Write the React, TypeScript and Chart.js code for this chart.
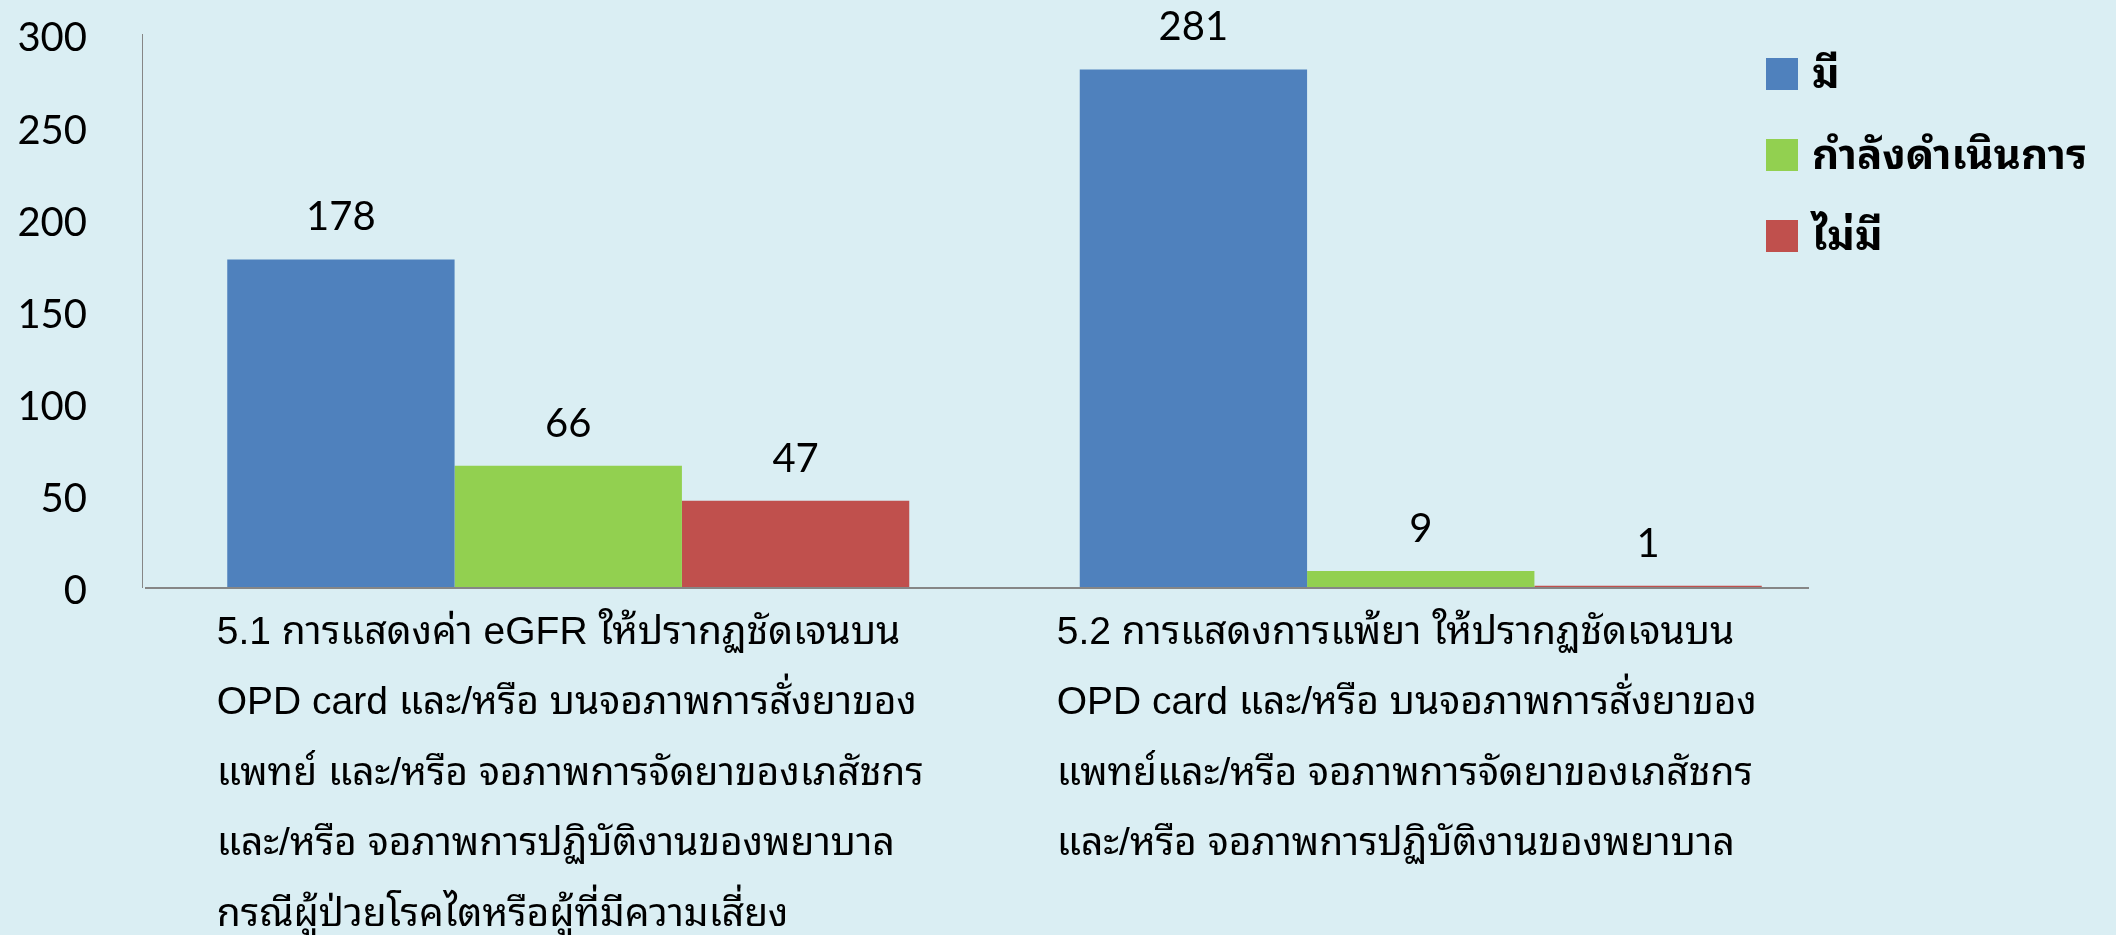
import { useEffect, useRef } from "react";
import { Chart, registerables } from "chart.js";

Chart.register(...registerables);

// ---- data ----
const categories: string[][] = [
  [
    "5.1 การแสดงค่า eGFR ให้ปรากฏชัดเจนบน",
    "OPD card และ/หรือ บนจอภาพการสั่งยาของ",
    "แพทย์ และ/หรือ จอภาพการจัดยาของเภสัชกร",
    "และ/หรือ จอภาพการปฏิบัติงานของพยาบาล",
    "กรณีผู้ป่วยโรคไตหรือผู้ที่มีความเสี่ยง",
  ],
  [
    "5.2 การแสดงการแพ้ยา ให้ปรากฏชัดเจนบน",
    "OPD card และ/หรือ บนจอภาพการสั่งยาของ",
    "แพทย์และ/หรือ จอภาพการจัดยาของเภสัชกร",
    "และ/หรือ จอภาพการปฏิบัติงานของพยาบาล",
  ],
];
const seriesNames = ["มี", "กำลังดำเนินการ", "ไม่มี"];
const haveValues = [178, 281];
const inProgressValues = [66, 9];
const noneValues = [47, 1];
const seriesColors = ["#4F81BD", "#92D050", "#C0504D"];
const yMin = 0;
const yMax = 300;
const yStep = 50;

// ---- styles ----
const W = 2116;
const H = 935;
const BG = "#DAEEF3";
const AXIS = "#868686";
const NUM_FONT = '40px Lato, "DejaVu Sans", sans-serif';
const CAT_FONT = '39px "Liberation Sans", "Noto Sans Thai Looped", "Noto Sans Thai", "Noto Sans", sans-serif';
const LEG_FONT = 'bold 42px "Noto Sans Thai Looped", "Noto Sans Thai", "Noto Sans", sans-serif';
const labelShift = [2, -14];

const overlayPlugin = {
  id: "overlay",
  afterDatasetsDraw(chart: any) {
    const ctx: CanvasRenderingContext2D = chart.ctx;
    const area = chart.chartArea;
    const xs = chart.scales.x;
    ctx.save();

    // horizontal axis line (drawn over bars)
    ctx.strokeStyle = AXIS;
    ctx.lineWidth = 2;
    ctx.beginPath();
    ctx.moveTo(area.left + 3, area.bottom + 0.5);
    ctx.lineTo(area.right - 38, area.bottom + 0.5);
    ctx.stroke();

    // value labels
    ctx.font = NUM_FONT;
    ctx.fillStyle = "#000";
    ctx.textAlign = "center";
    ctx.textBaseline = "middle";
    chart.data.datasets.forEach((ds: any, di: number) => {
      const meta = chart.getDatasetMeta(di);
      meta.data.forEach((el: any, i: number) => {
        ctx.fillText(String(ds.data[i]), el.x, el.y - 42);
      });
    });

    // category labels: centred block, left-aligned lines
    ctx.font = CAT_FONT;
    ctx.textAlign = "left";
    ctx.textBaseline = "alphabetic";
    (chart.data.labels as string[][]).forEach((lines, i) => {
      const cx = xs.getPixelForValue(i) + (labelShift[i] || 0);
      const maxW = Math.max(...lines.map((l) => ctx.measureText(l).width));
      const left = cx - maxW / 2;
      lines.forEach((l, k) => {
        ctx.fillText(l, left, area.bottom + 56 + k * 70.5);
      });
    });

    // legend
    ctx.font = LEG_FONT;
    ctx.textBaseline = "middle";
    chart.data.datasets.forEach((ds: any, di: number) => {
      const cy = 74 + di * 81;
      const sx = chart.width - 350;
      ctx.fillStyle = ds.backgroundColor;
      ctx.fillRect(sx, cy - 16, 32, 32);
      ctx.fillStyle = "#000";
      ctx.fillText(ds.label, sx + 46, cy + 2);
    });

    ctx.restore();
  },
};

export default function App() {
  const ref = useRef<HTMLCanvasElement | null>(null);

  useEffect(() => {
    if (!ref.current) return;
    const chart = new Chart(ref.current, {
      type: "bar",
      data: {
        labels: categories as any,
        datasets: [
          { label: seriesNames[0], data: haveValues, backgroundColor: seriesColors[0] },
          { label: seriesNames[1], data: inProgressValues, backgroundColor: seriesColors[1] },
          { label: seriesNames[2], data: noneValues, backgroundColor: seriesColors[2] },
        ],
      },
      options: {
        animation: false,
        responsive: false,
        devicePixelRatio: 1,
        layout: { padding: { top: 34.5, right: 269, left: 0, bottom: 0 } },
        datasets: {
          bar: { categoryPercentage: 0.8, barPercentage: 1.0 },
        },
        plugins: {
          legend: { display: false },
          tooltip: { enabled: false },
        },
        scales: {
          x: {
            type: "category",
            offset: true,
            grid: { display: false },
            border: { display: false },
            ticks: { display: false },
            afterFit: (s: any) => {
              s.height = 347.5;
              s.paddingLeft = 0;
              s.paddingRight = 0;
            },
          },
          y: {
            min: yMin,
            max: yMax,
            grid: { display: false, drawTicks: false },
            border: { display: true, color: AXIS, width: 1 },
            ticks: {
              stepSize: yStep,
              padding: 55,
              labelOffset: 4,
              color: "#000",
              font: { family: 'Lato, "DejaVu Sans", sans-serif', size: 40 },
            },
            afterFit: (s: any) => {
              s.width = 142;
              s.paddingTop = 0;
              s.paddingBottom = 0;
            },
          },
        },
      },
      plugins: [overlayPlugin],
    });
    const fonts = [NUM_FONT, CAT_FONT, LEG_FONT];
    Promise.all(fonts.map((f) => document.fonts.load(f, "กขค abc 123"))).then(() => chart.update()).catch(() => {});
    return () => chart.destroy();
  }, []);

  return (
    <div style={{ position: "fixed", left: 0, top: 0, width: W, height: H, background: BG }}>
      <canvas ref={ref} width={W} height={H} style={{ display: "block", width: W, height: H }} />
    </div>
  );
}
